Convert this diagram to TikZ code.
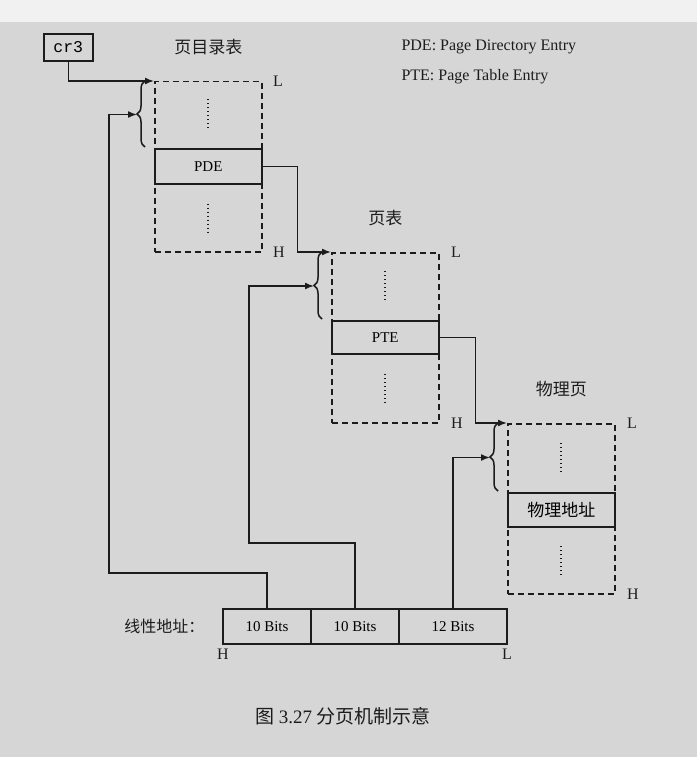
\documentclass[tikz,border=0pt]{standalone}
\usepackage{fontspec}
\setmainfont{Liberation Serif}
\setmonofont{Liberation Mono}
\newfontfamily\cjk{Noto Sans CJK SC}
\usepackage{xcolor}
\definecolor{pgbg}{RGB}{214, 214, 214}
\definecolor{pgink}{RGB}{28, 28, 28}
\usepackage{tikz}
\usetikzlibrary{arrows.meta, positioning, calc, decorations.pathreplacing}

\tikzset{
  tablebox/.style={draw=pgink, line width=1.5pt, dash pattern=on 6pt off 4pt,
    minimum width=107pt, minimum height=170pt, inner sep=0pt, anchor=north west},
  entrybox/.style={draw=pgink, line width=1.6pt, solid, minimum width=107pt,
    inner sep=0pt, anchor=north west, font=\fontsize{15}{18}\selectfont},
  bitbox/.style={draw=pgink, line width=1.6pt, minimum height=35pt, inner sep=0pt,
    outer sep=0pt, font=\fontsize{15}{18}\selectfont},
  link/.style={pgink, line width=1.6pt, -{Latex[length=9pt, width=7pt]}},
  bracemark/.style={pgink, line width=1.5pt, decorate, decoration={brace, amplitude=8pt}},
  dotmark/.style={pgink, line width=2pt, dash pattern=on 1pt off 3pt},
  endlabel/.style={text=pgink, font=\fontsize{16}{19}\selectfont},
  titlelabel/.style={text=pgink, font=\fontsize{17}{20}\cjk}
}

\begin{document}
\begin{tikzpicture}[x=1pt, y=-1pt]
  % Page background
  \useasboundingbox (0,0) rectangle (697,757);
  \fill[pgbg] (0,0) rectangle (697,757);
  \fill[pgbg!35!white] (0,0) rectangle (697,22);

  % Register
  \node[draw=pgink, line width=1.6pt, minimum width=49pt, minimum height=27pt,
    inner sep=0pt, anchor=north west, font=\fontsize{16.5}{19}\ttfamily] (cr3) at (43,33) {cr3};

  % Page directory
  \node[tablebox] (pd) at (154,81) {};
  \node[entrybox, minimum height=35pt] (pde) at (154,148) {PDE};
  \node[titlelabel, above=23pt of pd] (pdtitle) {页目录表};
  \node[endlabel, anchor=west] (pdL) at ($(pd.north east)+(7,0)$) {L};
  \node[endlabel, anchor=west] (pdH) at ($(pd.south east)+(7,0)$) {H};
  \draw[dotmark] ($(pd.north)!.5!(pde.north)+(0,-15)$) -- ++(0,30);
  \draw[dotmark] ($(pde.south)!.5!(pd.south)+(0,-15)$) -- ++(0,30);

  % Page table
  \node[tablebox] (pt) at (331,252) {};
  \node[entrybox, minimum height=33pt] (pte) at (331,320) {PTE};
  \node[titlelabel, above=23pt of pt] (pttitle) {页表};
  \node[endlabel, anchor=west] (ptL) at ($(pt.north east)+(8,0)$) {L};
  \node[endlabel, anchor=west] (ptH) at ($(pt.south east)+(8,0)$) {H};
  \draw[dotmark] ($(pt.north)!.5!(pte.north)+(0,-15)$) -- ++(0,30);
  \draw[dotmark] ($(pte.south)!.5!(pt.south)+(0,-15)$) -- ++(0,30);

  % Physical page
  \node[tablebox] (ph) at (507,423) {};
  \node[entrybox, minimum height=34pt, font=\fontsize{17}{20}\cjk] (phe) at (507,492) {物理地址};
  \node[titlelabel, above=23pt of ph] (phtitle) {物理页};
  \node[endlabel, anchor=west] (phL) at ($(ph.north east)+(8,0)$) {L};
  \node[endlabel, anchor=west] (phH) at ($(ph.south east)+(8,0)$) {H};
  \draw[dotmark] ($(ph.north)!.5!(phe.north)+(0,-15)$) -- ++(0,30);
  \draw[dotmark] ($(phe.south)!.5!(ph.south)+(0,-15)$) -- ++(0,30);

  % Braces in front of each table
  \draw[bracemark] ($(pde.north west)+(-9,-1)$) -- ($(pd.north west)+(-9,0)$);
  \draw[bracemark] ($(pte.north west)+(-9,-1)$) -- ($(pt.north west)+(-9,0)$);
  \draw[bracemark] ($(phe.north west)+(-9,-1)$) -- ($(ph.north west)+(-9,0)$);
  \coordinate (tip1) at ($(pd.north west)!.5!(pde.north west)+(-17,0)$);
  \coordinate (tip2) at ($(pt.north west)!.5!(pte.north west)+(-17,0)$);
  \coordinate (tip3) at ($(ph.north west)!.5!(phe.north west)+(-17,0)$);

  % Legend
  \node[endlabel, anchor=west] (pdelegend) at (398,47) {PDE: Page Directory Entry};
  \node[endlabel, anchor=west] (ptelegend) at (398,77) {PTE: Page Table Entry};

  % Linear address
  \node[bitbox, minimum width=88pt, anchor=north west] (b1) at (223,609) {10 Bits};
  \node[bitbox, minimum width=88pt, right=0pt of b1] (b2) {10 Bits};
  \node[bitbox, minimum width=108pt, right=0pt of b2] (b3) {12 Bits};
  \node[titlelabel, font=\fontsize{16}{19}\cjk, left=15pt of b1] (lalabel) {线性地址：};
  \node[endlabel, below=1pt of b1.south west] (laH) {H};
  \node[endlabel, below=1pt of b3.south east] (laL) {L};

  % Connectors
  \draw[link] (cr3.south) |- (pd.north west);
  \draw[link] (pde.east) -- ++(35,0) |- (pt.north west);
  \draw[link] (pte.east) -- ++(36,0) |- (ph.north west);
  \draw[link] (b1.north) -- ++(0,-36) -| ($(tip1)+(-28,0)$) -- (tip1);
  \draw[link] (b2.north) -- ++(0,-66) -| ($(tip2)+(-65,0)$) -- (tip2);
  \draw[link] (b3.north) |- (tip3);

  % Caption
  \node[text=pgink, font=\fontsize{19}{22}\selectfont] (caption) at (343,716)
    {{\cjk 图} 3.27 {\cjk 分页机制示意}};
\end{tikzpicture}
\end{document}
